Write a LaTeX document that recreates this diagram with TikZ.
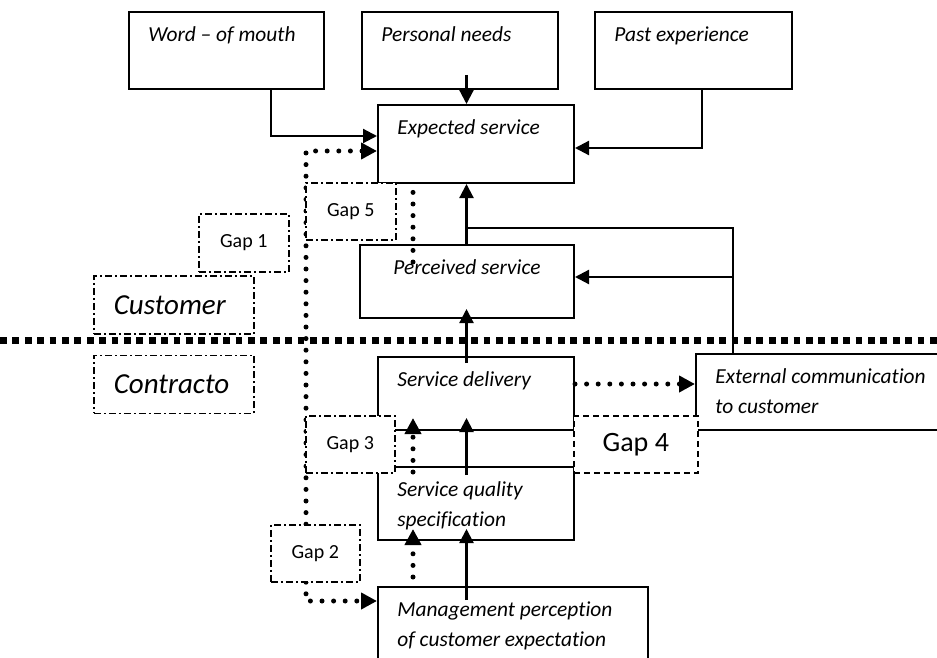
\documentclass[tikz,border=0pt]{standalone}
\usepackage{fontspec}
\setmainfont{Carlito}[Ligatures={TeX,NoCommon}]
\usetikzlibrary{positioning,arrows.meta}

\begin{document}
\begin{tikzpicture}[x=0.5pt, y=-0.5pt,
    box/.style={draw, line width=1pt, anchor=north west, inner sep=0pt, minimum width=98pt, minimum height=36.5pt},
    txt/.style={inner sep=0pt, align=left, font=\fontsize{10.7}{15}\selectfont\itshape},
    tl/.style={txt, anchor=north west, xshift=10pt, yshift=-7.5pt},
    gapbox/.style={draw, fill=white, line width=0.75pt, anchor=north west, inner sep=0pt,
        minimum width=44.5pt, minimum height=28.5pt,
        dash pattern=on 3.5pt off 1.5pt on 1pt off 1.5pt, font=\fontsize{10}{12}\selectfont},
    sidebox/.style={gapbox, minimum width=80pt, minimum height=29pt, text width=60pt, inner xsep=10pt,
        align=left, font=\fontsize{14.5}{16}\selectfont\itshape},
    arrow/.style={-{Triangle[length=7pt,width=7pt]}, line width=1.1pt},
    dotline/.style={line width=2.5pt, line cap=round, dash pattern=on 0pt off 5.8pt},
    dotarrow/.style={dotline, >={Triangle[length=8pt,width=8pt]}, ->},
    sepline/.style={line width=3.5pt, dash pattern=on 3.4pt off 2.8pt}
]
\useasboundingbox (0,0) rectangle (937,658);
\clip (0,0) rectangle (937,658);

\coordinate (midcol) at (466.5,0);
\coordinate (dotcol) at (413,0);
\coordinate (rail) at (306,400);

\node[box, minimum width=97.5pt, minimum height=38.5pt, label={[tl]north west:Word -- of mouth}] (wom) at (128,11) {};
\node[box, minimum height=38.5pt, right=18pt of wom, label={[tl]north west:Personal needs}] (needs) {};
\node[box, minimum width=98.5pt, minimum height=38.5pt, right=17.5pt of needs, label={[tl]north west:Past experience}] (past) {};
\node[box, minimum height=39pt, label={[tl]north west:Expected service}] (expected) at (377,104) {};
\node[box, minimum width=107pt, label={[txt, anchor=north, yshift=-7.5pt]north:Perceived service}] (perceived) at (359,244) {};
\node[box, label={[tl]north west:Service delivery}] (delivery) at (377,356) {};
\node[box, below=17.5pt of delivery, label={[tl]north west:Service quality\\specification}] (spec) {};
\node[box, minimum width=135pt, minimum height=57pt, label={[tl]north west:Management perception\\of customer expectation}] (mgmt) at (377,586) {};
\node[box, minimum width=147.5pt, minimum height=38pt, label={[tl]north west:External communication\\to customer}] (ext) at (695,353) {};

\draw[arrow] ([xshift=22.25pt]wom.south) |- ([yshift=4pt]expected.west);
\draw[arrow] ([yshift=7.5pt]midcol |- needs.south) -- (midcol |- expected.north);
\draw[arrow] ([xshift=4.25pt]past.south) |- ([yshift=-2pt]expected.east);
\draw[arrow] (midcol |- perceived.north) -- (midcol |- expected.south);
\coordinate (feed) at ([xshift=19pt]ext.north west);
\draw[line width=1pt] (feed) |- ([yshift=8pt]midcol |- perceived.north);
\draw[arrow] ([yshift=2.25pt]feed |- perceived.east) -- ([yshift=2.25pt]perceived.east);
\draw[arrow] ([yshift=-3.5pt]midcol |- delivery.north) -- ([yshift=5pt]midcol |- perceived.south);
\draw[arrow] ([yshift=-4.5pt]midcol |- spec.north) -- ([yshift=6.5pt]midcol |- delivery.south);
\draw[arrow] ([yshift=-7pt]midcol |- mgmt.north) -- ([yshift=6pt]midcol |- spec.south);

\draw[dotarrow, <->] ([yshift=-3.5pt]expected.west) -| (rail) |- ([yshift=-7.5pt]mgmt.north west);
\draw[dotarrow] ([yshift=4.75pt]delivery.east) -- ([yshift=4.75pt]delivery.east -| ext.west);
\draw[dotarrow] ([yshift=-3pt]dotcol |- spec.north) -- ([yshift=6.5pt]dotcol |- delivery.south);
\draw[dotarrow] ([yshift=4.5pt]dotcol |- mgmt.north) -- ([yshift=6pt]dotcol |- spec.south);
\draw[dotline] ([yshift=-9pt]dotcol |- perceived.north) -- (dotcol |- expected.south);

\draw[sepline] (0,340) -- (937,340);

\node[gapbox, minimum width=45pt] (gap5) at (305,182) {Gap 5};
\node[gapbox, minimum width=45pt, minimum height=29pt] (gap1) at (198,213) {Gap 1};
\node[sidebox] (cust) at (93,275) {Customer};
\node[sidebox, below=10pt of cust] (contr) {Contracto};
\node[gapbox] (gap3) at (305,415) {Gap 3};
\node[gapbox, dash pattern=on 3pt off 2pt, line width=0.8pt, minimum width=62pt, font=\fontsize{14}{16}\selectfont] (gap4) at (573,415) {Gap 4};
\node[gapbox] (gap2) at (270,524) {Gap 2};

\end{tikzpicture}
\end{document}
